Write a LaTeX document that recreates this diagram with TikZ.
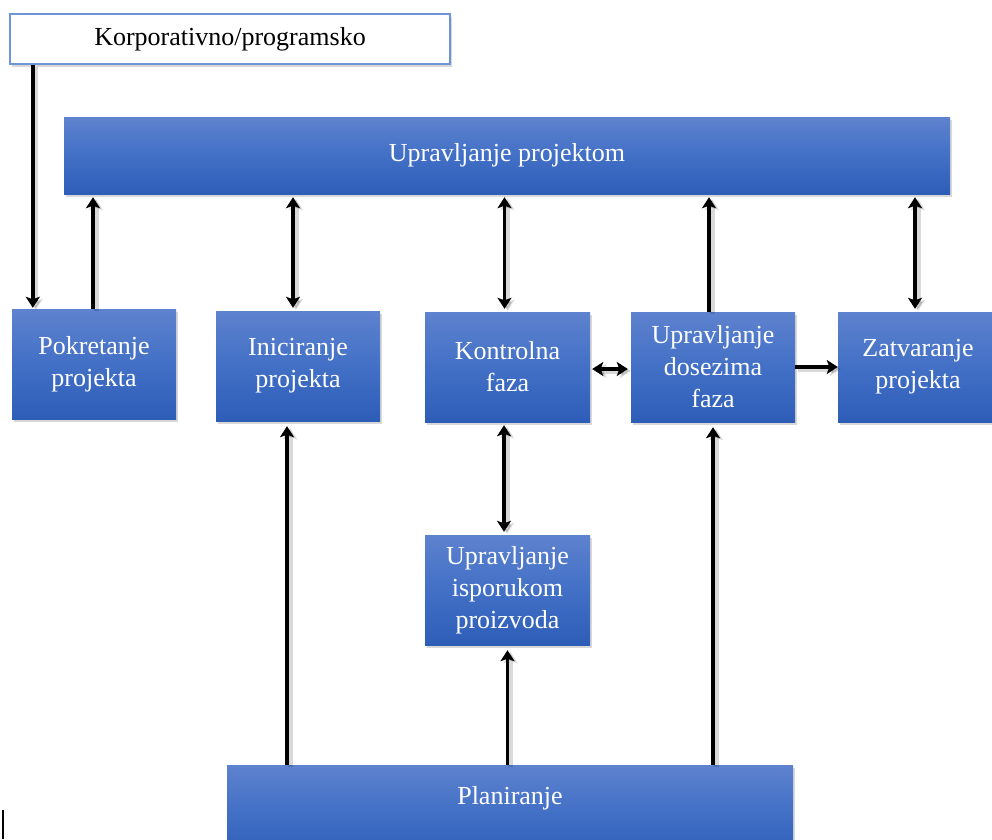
\documentclass[tikz,border=0pt]{standalone}
\usepackage{fontspec}
\setmainfont{Liberation Serif}
\usetikzlibrary{arrows.meta,shadows}
\definecolor{btop}{RGB}{94,130,206}
\definecolor{bmid}{RGB}{66,112,198}
\definecolor{bbot}{RGB}{46,93,184}
\definecolor{bord}{RGB}{110,148,218}
\begin{document}
\begin{tikzpicture}[x=1pt,y=-1pt,font=\fontsize{26}{32}\selectfont,
  bluebox/.style={rectangle, inner sep=0pt, top color=btop, bottom color=bbot, middle color=bmid,
    text=white, align=center, draw=none,
    drop shadow={opacity=0.3, shadow xshift=2pt, shadow yshift=-3pt}},
  whitebox/.style={rectangle, inner sep=0pt, fill=white, draw=bord, line width=1.5pt,
    text=black, align=center,
    drop shadow={opacity=0.3, shadow xshift=2pt, shadow yshift=-3pt}},
  tip/.tip={Stealth[length=11pt,width=14pt,inset=2.5pt]},
  arrshadow/.style={preaction={draw=black, opacity=0.15, line width=5pt, transform canvas={xshift=3pt,yshift=-2pt}}},
  arr/.style={line width=3.5pt, -tip, arrshadow},
  darr/.style={line width=3.5pt, tip-tip, arrshadow}]
\useasboundingbox (0,0) rectangle (992,839);
\fill[white] (0,0) rectangle (992,839);

\node[whitebox, minimum width=440pt, minimum height=50pt] (korp) at (230,39) {Korporativno/programsko};
\node[bluebox, minimum width=886pt, minimum height=77pt] (upr) at (507,155.5) {Upravljanje projektom};
\node[bluebox, minimum width=164pt, minimum height=110pt] (pok) at (94,364) {Pokretanje\\projekta};
\node[bluebox, minimum width=164pt, minimum height=110pt] (ini) at (298,366) {Iniciranje\\projekta};
\node[bluebox, minimum width=165pt, minimum height=110pt] (kon) at (507.5,367) {Kontrolna\\faza};
\node[bluebox, minimum width=164pt, minimum height=110pt] (dos) at (713,367) {Upravljanje\\dosezima\\faza};
\node[bluebox, minimum width=160pt, minimum height=110pt] (zat) at (918,367) {Zatvaranje\\projekta};
\node[bluebox, minimum width=165pt, minimum height=110pt] (isp) at (507.5,590) {Upravljanje\\isporukom\\proizvoda};
\node[bluebox, minimum width=566pt, minimum height=95pt, text depth=35pt] (plan) at (510,812.5) {Planiranje};

% Korporativno -> Pokretanje
\coordinate (k1) at ([xshift=21pt]pok.north west);
\draw[arr, shorten >=1pt] (k1 |- korp.south) -- (k1);
% Pokretanje -> Upravljanje projektom
\coordinate (p1) at ([xshift=-1pt]pok.north);
\draw[arr, shorten >=3pt] (p1) -- (p1 |- upr.south);
% Iniciranje <-> Upravljanje projektom
\coordinate (i1) at ([xshift=-5pt]ini.north);
\draw[darr, shorten <=3pt, shorten >=3pt] (i1) -- (i1 |- upr.south);
% Kontrolna <-> Upravljanje projektom
\coordinate (k2) at ([xshift=-3pt]kon.north);
\draw[darr, shorten <=3pt, shorten >=3pt] (k2) -- (k2 |- upr.south);
% Dosezima -> Upravljanje projektom
\coordinate (d1) at ([xshift=-4pt]dos.north);
\draw[arr, shorten >=3pt] (d1) -- (d1 |- upr.south);
% Zatvaranje <-> Upravljanje projektom
\coordinate (z1) at ([xshift=-3pt]zat.north);
\draw[darr, shorten <=3pt, shorten >=3pt] (z1) -- (z1 |- upr.south);
% Kontrolna <-> Dosezima
\coordinate (h1) at ([yshift=-2pt]kon.east);
\draw[darr, shorten <=2pt, shorten >=3pt] (h1) -- (h1 -| dos.west);
% Dosezima -> Zatvaranje
\draw[arr] (dos.east) -- (zat.west);
% Kontrolna <-> Isporukom
\coordinate (k3) at ([xshift=-3.5pt]kon.south);
\draw[darr, shorten <=3pt, shorten >=3pt] (k3) -- (k3 |- isp.north);
% Planiranje -> Iniciranje
\coordinate (pl1) at ([xshift=-11pt]ini.south);
\draw[arr, shorten >=5pt] (pl1 |- plan.north) -- (pl1);
% Planiranje -> Isporukom
\draw[arr, shorten >=5pt] (isp.south |- plan.north) -- (isp.south);
% Planiranje -> Dosezima
\draw[arr, shorten >=5pt] (dos.south |- plan.north) -- (dos.south);

% cursor mark
\draw[line width=1.5pt] (3,810) -- (3,839);
\end{tikzpicture}
\end{document}
